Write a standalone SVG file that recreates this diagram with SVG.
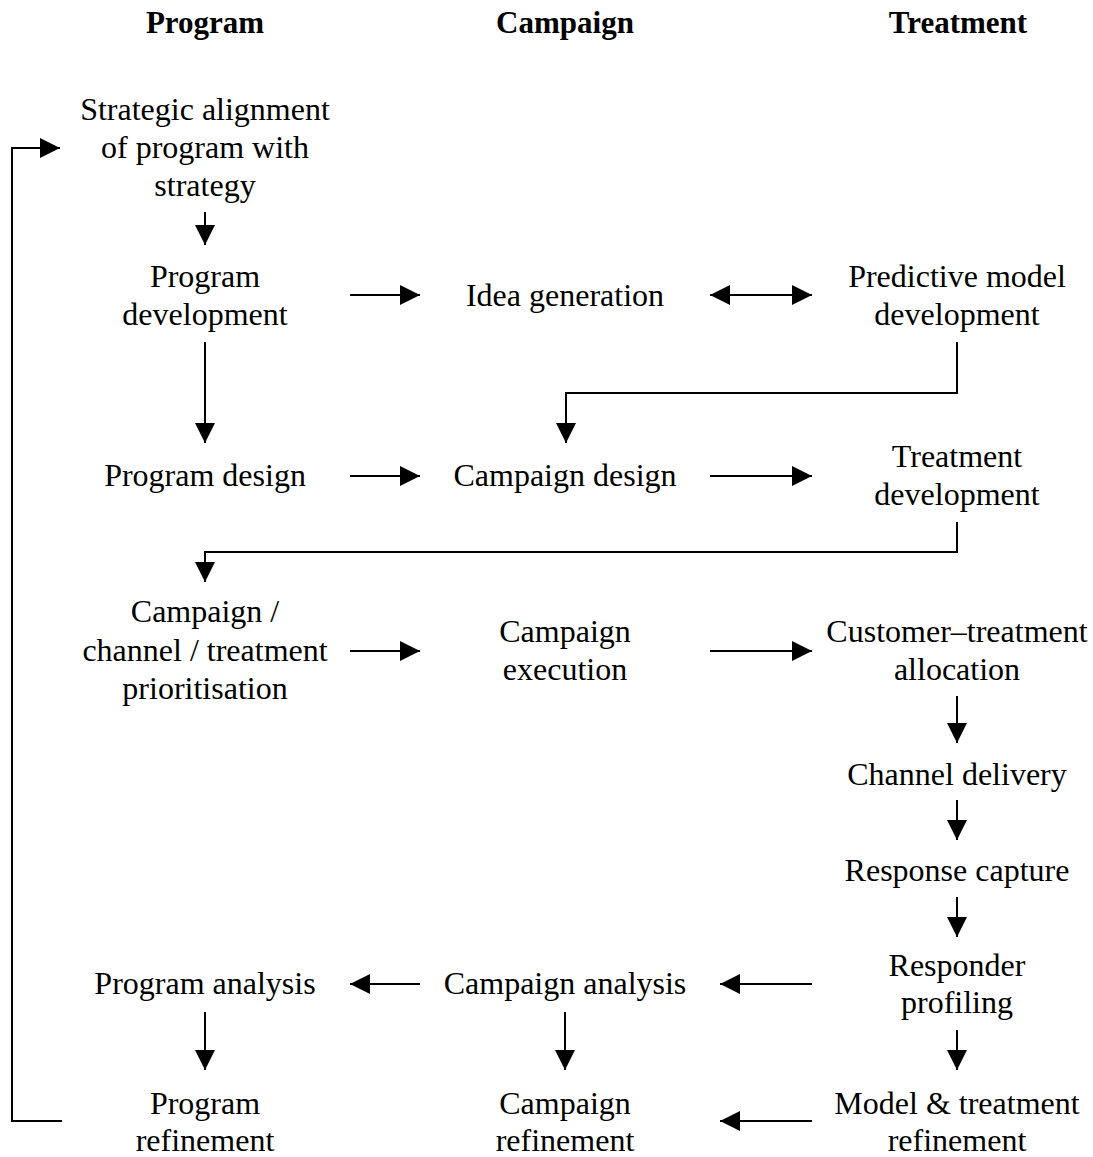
<svg xmlns="http://www.w3.org/2000/svg" width="1093" height="1157" viewBox="0 0 1093 1157">
<defs>
<marker id="ah" viewBox="0 0 20 20" refX="20" refY="10" markerWidth="20" markerHeight="20" markerUnits="userSpaceOnUse" orient="auto-start-reverse">
<path d="M0,0 L20,10 L0,20 Z" fill="#000"/>
</marker>
<style>
text{font-family:"Liberation Serif","Times New Roman",serif;font-size:32px;fill:#000;text-anchor:middle}
.h{font-weight:bold;font-size:31px}
.c line,.c path{stroke:#000;stroke-width:2;fill:none}
.a{marker-end:url(#ah)}
.b{marker-start:url(#ah);marker-end:url(#ah)}
</style>
</defs>
<rect width="1093" height="1157" fill="#fff"/>
<g id="headers">
<text class="h" x="205" y="33">Program</text>
<text class="h" x="565" y="33">Campaign</text>
<text class="h" x="958" y="33">Treatment</text>
</g>
<g id="n-strategic"><text x="205" y="120">Strategic alignment</text><text x="205" y="158">of program with</text><text x="205" y="196">strategy</text></g>
<g id="n-progdev"><text x="205" y="287">Program</text><text x="205" y="325">development</text></g>
<g id="n-idea"><text x="565" y="306">Idea generation</text></g>
<g id="n-predictive"><text x="957" y="287">Predictive model</text><text x="957" y="325">development</text></g>
<g id="n-progdesign"><text x="205" y="486">Program design</text></g>
<g id="n-campdesign"><text x="565" y="486">Campaign design</text></g>
<g id="n-treatdev"><text x="957" y="467">Treatment</text><text x="957" y="505">development</text></g>
<g id="n-prioritisation"><text x="205" y="622">Campaign /</text><text x="205" y="661">channel / treatment</text><text x="205" y="699">prioritisation</text></g>
<g id="n-campexec"><text x="565" y="642">Campaign</text><text x="565" y="680">execution</text></g>
<g id="n-allocation"><text x="957" y="642">Customer–treatment</text><text x="957" y="680">allocation</text></g>
<g id="n-channel"><text x="957" y="785">Channel delivery</text></g>
<g id="n-response"><text x="957" y="881">Response capture</text></g>
<g id="n-profiling"><text x="957" y="976">Responder</text><text x="957" y="1013">profiling</text></g>
<g id="n-proganalysis"><text x="205" y="994">Program analysis</text></g>
<g id="n-campanalysis"><text x="565" y="994">Campaign analysis</text></g>
<g id="n-progref"><text x="205" y="1114">Program</text><text x="205" y="1151">refinement</text></g>
<g id="n-campref"><text x="565" y="1114">Campaign</text><text x="565" y="1151">refinement</text></g>
<g id="n-modelref"><text x="957" y="1114">Model &amp; treatment</text><text x="957" y="1151">refinement</text></g>
<g id="connectors" class="c">
<line class="a" x1="205" y1="212" x2="205" y2="245"/>
<line class="a" x1="350" y1="295" x2="420" y2="295"/>
<line class="b" x1="710" y1="295" x2="812" y2="295"/>
<path class="a" d="M957,342 V393 H566 V443"/>
<line class="a" x1="205" y1="342" x2="205" y2="443"/>
<line class="a" x1="350" y1="476" x2="420" y2="476"/>
<line class="a" x1="710" y1="476" x2="812" y2="476"/>
<path class="a" d="M957,522 V552 H205 V582"/>
<line class="a" x1="350" y1="651" x2="420" y2="651"/>
<line class="a" x1="710" y1="651" x2="812" y2="651"/>
<line class="a" x1="957" y1="696" x2="957" y2="743"/>
<line class="a" x1="957" y1="800" x2="957" y2="840"/>
<line class="a" x1="957" y1="897" x2="957" y2="937"/>
<line class="a" x1="812" y1="984" x2="720" y2="984"/>
<line class="a" x1="420" y1="984" x2="350" y2="984"/>
<line class="a" x1="205" y1="1012" x2="205" y2="1070"/>
<line class="a" x1="565" y1="1012" x2="565" y2="1070"/>
<line class="a" x1="957" y1="1030" x2="957" y2="1070"/>
<line class="a" x1="812" y1="1121" x2="720" y2="1121"/>
<path class="a" d="M62,1121 H12 V148 H60"/>
</g>
</svg>
